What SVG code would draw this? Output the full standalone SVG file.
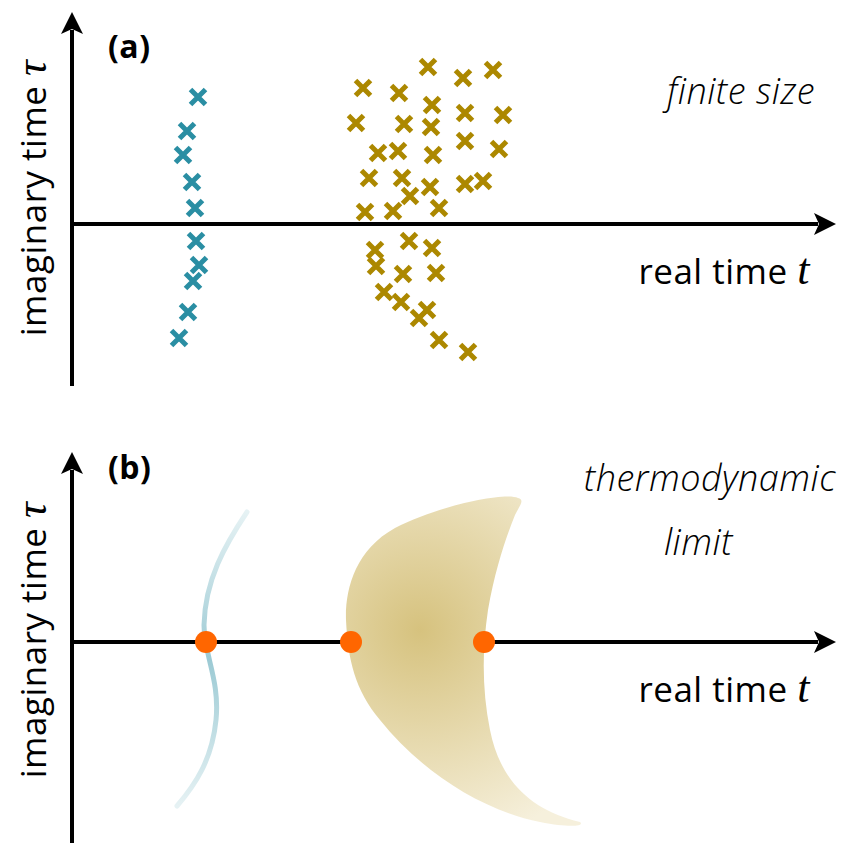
<svg xmlns="http://www.w3.org/2000/svg" width="854" height="847" viewBox="0 0 854 847">
<defs>
<marker id="arr" markerWidth="22" markerHeight="22" refX="4" refY="11" orient="auto" markerUnits="userSpaceOnUse" viewBox="0 0 22 22"><path d="M0,0 L22,11 L0,22 L5,11 Z" fill="#000"/></marker>
<symbol id="x" overflow="visible"><path d="M-7.5,-7.5 L7.5,7.5 M-7.5,7.5 L7.5,-7.5" stroke-width="5"/></symbol>
<radialGradient id="g" cx="420" cy="630" r="220" gradientUnits="userSpaceOnUse"><stop offset="0" stop-color="#d6c27e"/><stop offset="1" stop-color="#f6f0dc"/></radialGradient>
<linearGradient id="bl" x1="0" y1="512" x2="0" y2="806" gradientUnits="userSpaceOnUse"><stop offset="0" stop-color="#e6f2f4"/><stop offset="0.5" stop-color="#9ccad4"/><stop offset="1" stop-color="#e6f2f4"/></linearGradient>
<style>
.b use{stroke:#2a8ea3}.o use{stroke:#ac8800}
text{font-family:"Open Sans","DejaVu Sans",sans-serif;font-size:35px;fill:#000;letter-spacing:0.5px}
.it{font-style:italic;font-weight:300;font-size:36px}
.lb{font-weight:bold;font-size:32px}
.ax{stroke:#000;stroke-width:4;fill:none}
.dot{fill:#ff6600}
.t{font-family:"Liberation Serif",serif;font-style:italic;font-size:44px}
</style>
</defs>
<g id="axes">
<line class="ax" x1="72" y1="386" x2="72" y2="30" marker-end="url(#arr)"/>
<line class="ax" x1="72" y1="224" x2="818" y2="224" marker-end="url(#arr)"/>
<line class="ax" x1="72" y1="843" x2="72" y2="470" marker-end="url(#arr)"/>
<line class="ax" x1="72" y1="642" x2="818" y2="642" marker-end="url(#arr)"/>
</g>
<g id="labels">
<text class="lb" x="108" y="58">(a)</text>
<text class="lb" x="108" y="479">(b)</text>
<text class="it" x="815" y="104" text-anchor="end">finite size</text>
<text class="it" x="836" y="491" text-anchor="end">thermodynamic</text>
<text class="it" x="733" y="555" text-anchor="end">limit</text>
<text x="810" y="284" text-anchor="end">real time <tspan class="t">t</tspan></text>
<text x="810" y="702" text-anchor="end">real time <tspan class="t">t</tspan></text>
<text transform="translate(46,198) rotate(-90)" text-anchor="middle">imaginary time <tspan class="t" font-size="40">τ</tspan></text>
<text transform="translate(46,640) rotate(-90)" text-anchor="middle">imaginary time <tspan class="t" font-size="40">τ</tspan></text>
</g>
<g id="blue-crosses" class="b">
<use href="#x" x="198" y="97"/><use href="#x" x="187" y="131"/><use href="#x" x="183" y="155"/><use href="#x" x="192" y="182"/><use href="#x" x="195" y="208"/><use href="#x" x="196" y="241"/><use href="#x" x="199" y="265"/><use href="#x" x="193" y="281"/><use href="#x" x="188" y="312"/><use href="#x" x="179" y="338"/>
</g>
<g id="gold-crosses" class="o">
<use href="#x" x="428" y="67"/><use href="#x" x="463" y="78"/><use href="#x" x="493" y="70"/><use href="#x" x="363" y="88"/><use href="#x" x="399" y="93"/><use href="#x" x="432" y="105"/><use href="#x" x="465" y="113"/><use href="#x" x="503" y="115"/><use href="#x" x="356" y="123"/><use href="#x" x="404" y="124"/><use href="#x" x="431" y="127"/><use href="#x" x="465" y="141"/><use href="#x" x="499" y="149"/><use href="#x" x="378" y="153"/><use href="#x" x="398" y="151"/><use href="#x" x="433" y="155"/><use href="#x" x="369" y="178"/><use href="#x" x="402" y="178"/><use href="#x" x="410" y="196"/><use href="#x" x="430" y="187"/><use href="#x" x="465" y="184"/><use href="#x" x="483" y="181"/><use href="#x" x="365" y="212"/><use href="#x" x="393" y="211"/><use href="#x" x="439" y="208"/><use href="#x" x="409" y="241"/><use href="#x" x="432" y="248"/><use href="#x" x="375" y="250"/><use href="#x" x="376" y="266"/><use href="#x" x="403" y="274"/><use href="#x" x="436" y="273"/><use href="#x" x="384" y="292"/><use href="#x" x="401" y="302"/><use href="#x" x="427" y="310"/><use href="#x" x="419" y="318"/><use href="#x" x="439" y="340"/><use href="#x" x="468" y="352"/>
</g>
<g id="gold-region">
<path d="M518,498 C505,492 440,505 395,528 C355,550 345,590 346,620 C348,660 355,690 380,720 C420,770 480,810 540,822 C570,828 585,826 580,822 C530,810 500,780 490,730 C482,690 482,650 488,610 C495,570 505,540 515,515 C520,505 525,500 518,498 Z" fill="url(#g)"/>
</g>
<g id="blue-curve">
<path d="M247,512 C225,545 205,580 204,625 C204,655 220,680 216,720 C212,760 195,785 177,806" fill="none" stroke="url(#bl)" stroke-width="5" stroke-linecap="round"/>
</g>
<g id="points">
<circle class="dot" cx="206" cy="642" r="11"/><circle class="dot" cx="351" cy="642" r="11"/><circle class="dot" cx="484" cy="642" r="11"/>
</g>
</svg>
